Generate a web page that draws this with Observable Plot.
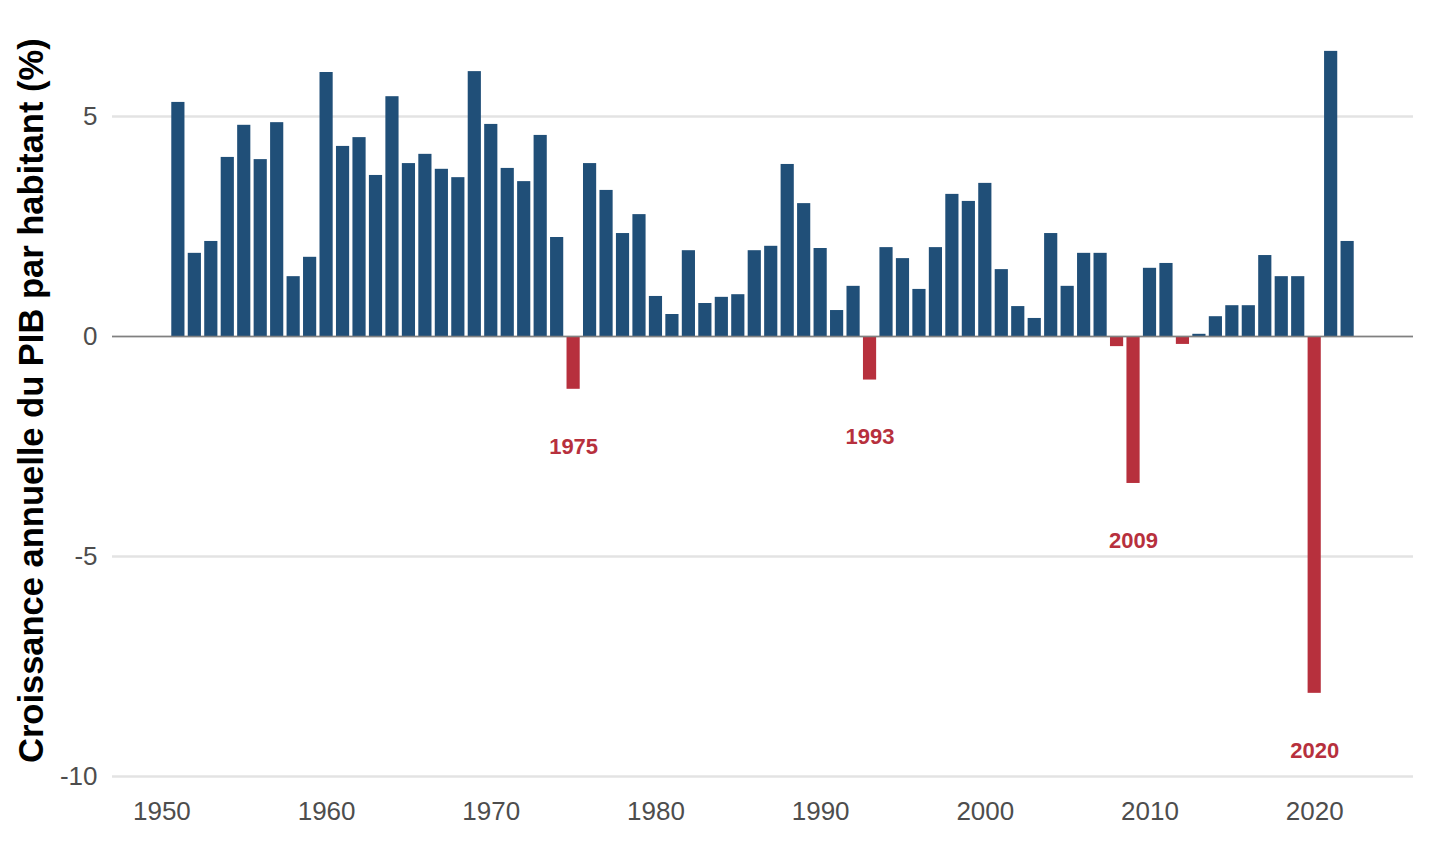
<!DOCTYPE html>
<html>
<head>
<meta charset="utf-8">
<script src="https://cdn.jsdelivr.net/npm/d3@7"></script>
<script src="https://cdn.jsdelivr.net/npm/@observablehq/plot@0.6"></script>
<style>
  html, body { margin: 0; padding: 0; background: #fff; }
  #chart svg { display: block; font-family: "Liberation Sans", Arial, sans-serif; }
</style>
</head>
<body>
<div id="chart"></div>
<script>
const years = [
  1951, 1952, 1953, 1954, 1955, 1956, 1957, 1958, 1959, 1960,
  1961, 1962, 1963, 1964, 1965, 1966, 1967, 1968, 1969, 1970,
  1971, 1972, 1973, 1974, 1975, 1976, 1977, 1978, 1979, 1980,
  1981, 1982, 1983, 1984, 1985, 1986, 1987, 1988, 1989, 1990,
  1991, 1992, 1993, 1994, 1995, 1996, 1997, 1998, 1999, 2000,
  2001, 2002, 2003, 2004, 2005, 2006, 2007, 2008, 2009, 2010,
  2011, 2012, 2013, 2014, 2015, 2016, 2017, 2018, 2019, 2020,
  2021, 2022
];
const growth = [
  5.32, 1.89, 2.16, 4.07, 4.80, 4.02, 4.86, 1.36, 1.80, 6.00,
  4.32, 4.52, 3.66, 5.45, 3.93, 4.14, 3.80, 3.61, 6.02, 4.82,
  3.82, 3.52, 4.57, 2.25, -1.20, 3.93, 3.32, 2.34, 2.77, 0.91,
  0.50, 1.95, 0.75, 0.89, 0.95, 1.95, 2.05, 3.91, 3.02, 2.00,
  0.59, 1.14, -0.99, 2.02, 1.77, 1.07, 2.02, 3.23, 3.07, 3.48,
  1.52, 0.68, 0.41, 2.34, 1.14, 1.89, 1.89, -0.23, -3.34, 1.55,
  1.66, -0.18, 0.05, 0.45, 0.70, 0.70, 1.84, 1.36, 1.36, -8.11,
  6.48, 2.16
];
const labelledYears = [1975, 1993, 2009, 2020];
const yTicks = [-10, -5, 0, 5];
const xTicks = [1950, 1960, 1970, 1980, 1990, 2000, 2010, 2020];
const yLabel = "Croissance annuelle du PIB par habitant (%)";

const BLUE = "#204f78";
const RED = "#b7303d";

const data = years.map((year, i) => ({year, value: growth[i]}));
const labels = data.filter(d => labelledYears.includes(d.year));

const chart = Plot.plot({
  width: 1440,
  height: 844,
  marginTop: 32.4,
  marginBottom: 68,
  marginLeft: 112,
  marginRight: 27,
  style: {fontFamily: "'Liberation Sans', Arial, sans-serif", background: "#fff"},
  x: {domain: [1947.0, 2026.0]},
  y: {domain: [-10, 6.9]},
  color: {type: "identity"},
  marks: [
    Plot.ruleY(yTicks, {stroke: "#e3e3e3", strokeWidth: 2.6}),
    Plot.rect(data, {
      x1: d => d.year - 0.4,
      x2: d => d.year + 0.4,
      y1: 0,
      y2: "value",
      fill: d => d.value < 0 ? RED : BLUE
    }),
    Plot.ruleY([0], {stroke: "#808080", strokeWidth: 1.5}),
    Plot.text(labels, {
      x: "year",
      y: d => d.value - 1.3,
      text: d => String(d.year),
      fill: RED,
      fontWeight: "bold",
      fontSize: 22,
      lineAnchor: "middle"
    }),
    Plot.axisY({
      ticks: yTicks,
      tickSize: 0,
      tickPadding: 15,
      label: null,
      fontSize: 26,
      color: "#4d4d4d",
      tickFormat: d => String(d)
    }),
    Plot.axisX({
      ticks: xTicks,
      tickSize: 0,
      tickPadding: 25,
      label: null,
      fontSize: 26,
      color: "#4d4d4d",
      tickFormat: d => String(d)
    }),
    Plot.text([yLabel], {
      frameAnchor: "left",
      rotate: -90,
      dx: -81,
      dy: -4,
      fontSize: 34.5,
      fontWeight: "bold",
      fill: "#000",
      textAnchor: "middle",
      lineAnchor: "middle"
    })
  ]
});

document.getElementById("chart").append(chart);
</script>
</body>
</html>
